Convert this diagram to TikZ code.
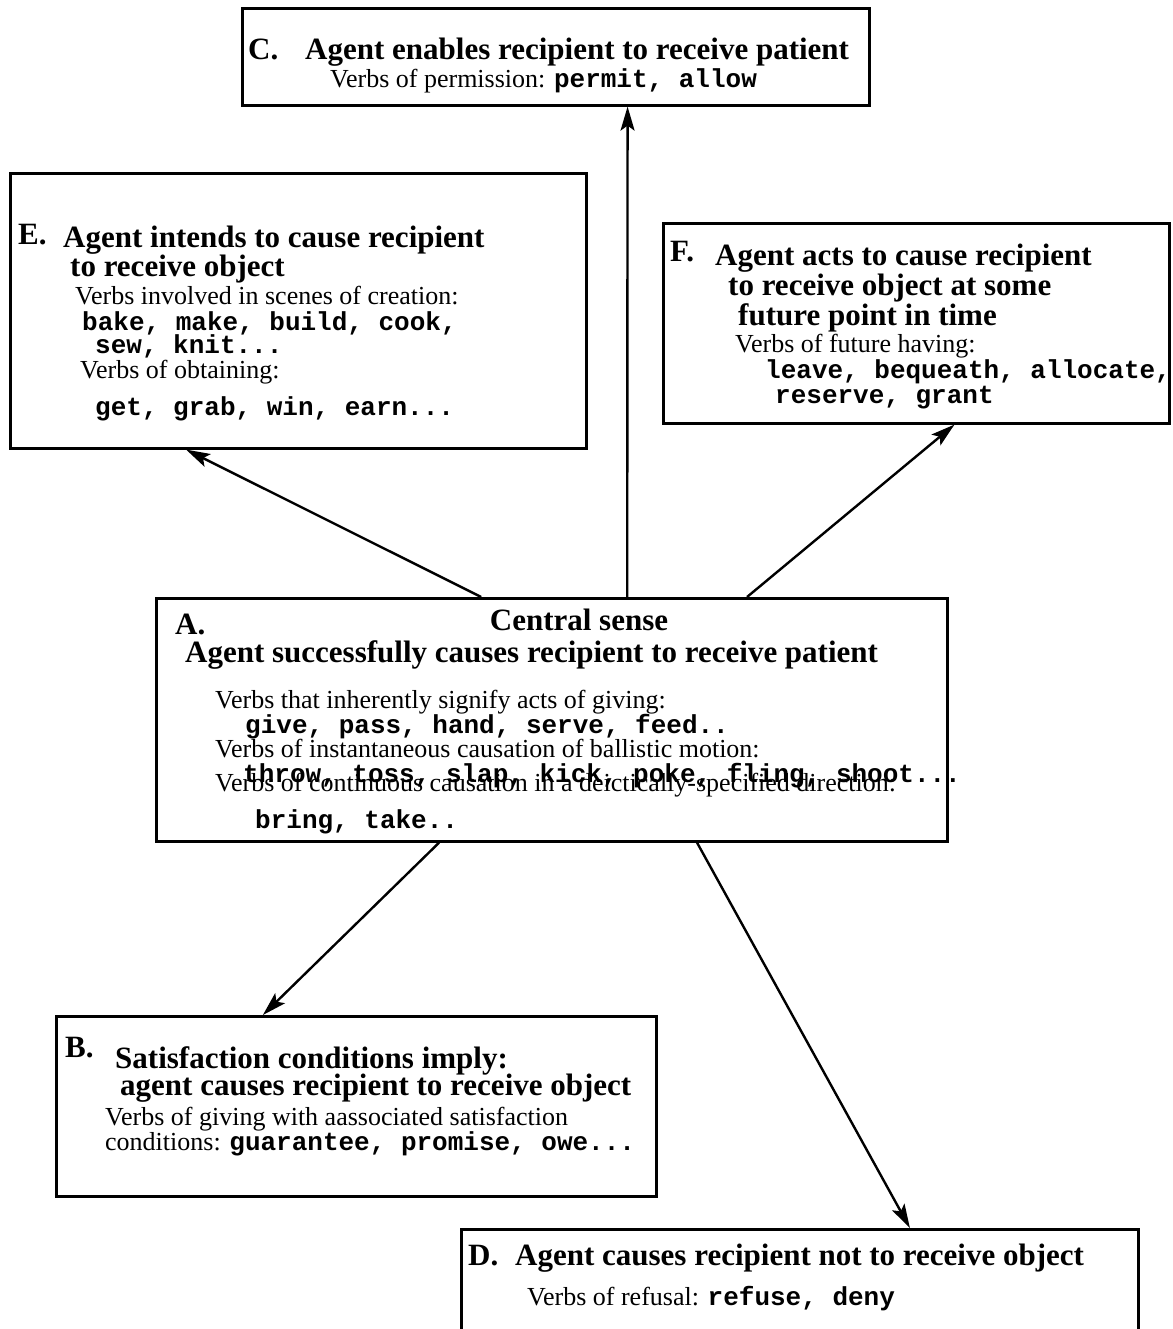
\documentclass[tikz,border=0pt]{standalone}
\usepackage{fontspec}
\setmainfont{Liberation Serif}
\setmonofont{Liberation Mono}
\usetikzlibrary{arrows.meta,calc}
\newcommand{\vrb}[1]{{\fontsize{26}{28}\selectfont\ttfamily\bfseries #1}}
\tikzset{
            sense/.style={draw,line width=2.6pt,anchor=north west,inner sep=0pt},
            ttl/.style={font=\fontsize{31}{34}\selectfont\bfseries,anchor=base west,inner sep=0pt},
            sub/.style={font=\fontsize{26}{28}\selectfont,anchor=base west,inner sep=0pt},
            lst/.style={font=\fontsize{26}{28}\selectfont\ttfamily\bfseries,anchor=base west,inner sep=0pt},
            link/.style={line width=2.4pt,-{Stealth[length=24pt,width=14pt,inset=5pt]}}
        }

\begin{document}
\begin{tikzpicture}[x=1pt,y=-1pt]
                \useasboundingbox (0,0) rectangle (1172,1329);
                \clip (0,0) rectangle (1172,1329);
                % boxes
                \node[sense,minimum width=627pt,minimum height=97pt] (C) at (241,7) {};
                \node[sense,minimum width=576pt,minimum height=275pt] (E) at (9,172) {};
                \node[sense,minimum width=506pt,minimum height=200pt] (F) at (662,222) {};
                \node[sense,minimum width=791pt,minimum height=243pt] (A) at (155,597) {};
                \node[sense,minimum width=600pt,minimum height=180pt] (B) at (55,1015) {};
                \node[sense,minimum width=677pt,minimum height=140pt] (D) at (460,1228) {};
                % C
                \node[ttl] (c0) at (248,60) {C.};
                \node[ttl] (c1) at (305,60) {Agent enables recipient to receive patient};
                \node[sub] (c2) at (330,88) {Verbs of permission: \vrb{permit, allow}};
                % E
                \node[ttl] (e0) at (18,245) {E.};
                \node[ttl] (e1) at (63,248) {Agent intends to cause recipient};
                \node[ttl] (e2) at (70,277) {to receive object};
                \node[sub] (e3) at (75,305) {Verbs involved in scenes of creation:};
                \node[lst] (e4) at (82,330) {bake, make, build, cook,};
                \node[lst] (e5) at (95,353) {sew, knit...};
                \node[sub] (e6) at (80,378) {Verbs of obtaining:};
                \node[lst] (e7) at (95,415) {get, grab, win, earn...};
                % F
                \node[ttl] (f0) at (670,262) {F.};
                \node[ttl] (f1) at (715,266) {Agent acts to cause recipient};
                \node[ttl] (f2) at (728,296) {to receive object at some};
                \node[ttl] (f3) at (738,325) {future point in time};
                \node[sub] (f4) at (735,352) {Verbs of future having:};
                \node[lst] (f5) at (765,378) {leave, bequeath, allocate,};
                \node[lst] (f6) at (775,403) {reserve, grant};
                % A
                \node[ttl] (a0) at (175,634) {A.};
                \node[ttl,anchor=base] (a1) at (579,630) {Central sense};
                \node[ttl] (a2) at (185,662) {Agent successfully causes recipient to receive patient};
                \node[sub] (a3) at (215,708) {Verbs that inherently signify acts of giving:};
                \node[lst] (a4) at (245,733) {give, pass, hand, serve, feed..};
                \node[sub] (a5) at (215,757) {Verbs of instantaneous causation of ballistic motion:};
                \node[lst] (a6) at (243,782) {throw, toss, slap, kick, poke, fling, shoot...};
                \node[sub] (a7) at (215,791) {Verbs of continuous causation in a deictically-specified direction:};
                \node[lst] (a8) at (255,828) {bring, take..};
                % B
                \node[ttl] (b0) at (65,1057) {B.};
                \node[ttl] (b1) at (115,1068) {Satisfaction conditions imply:};
                \node[ttl] (b2) at (120,1095) {agent causes recipient to receive object};
                \node[sub] (b3) at (105,1125) {Verbs of giving with aassociated satisfaction};
                \node[sub] (b4) at (105,1150) {conditions: \vrb{guarantee, promise, owe...}};
                % D
                \node[ttl] (d0) at (468,1265) {D.};
                \node[ttl] (d1) at (515,1265) {Agent causes recipient not to receive object};
                \node[sub] (d2) at (527,1305) {Verbs of refusal: \vrb{refuse, deny}};
                % links out of the central sense
                \draw[link] ($(A.north west)!0.595!(A.north east)$) -- ($(C.south west)!0.614!(C.south east)$);
                \draw[link] ($(A.north west)!0.411!(A.north east)$) -- ($(E.south west)!0.306!(E.south east)$);
                \draw[link] ($(A.north west)!0.746!(A.north east)$) -- ($(F.south west)!0.575!(F.south east)$);
                \draw[link] ($(A.south west)!0.358!(A.south east)$) -- ($(B.north west)!0.345!(B.north east)$);
                \draw[link] ($(A.south west)!0.683!(A.south east)$) -- ($(D.north west)!0.662!(D.north east)$);
            \end{tikzpicture}
\end{document}
